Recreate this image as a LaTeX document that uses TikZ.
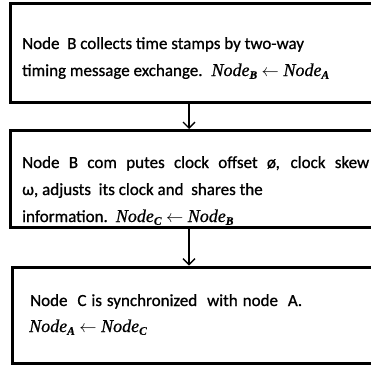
\documentclass[tikz,border=0pt]{standalone}
\usepackage{fontspec}
\setmainfont{Carlito}[FakeBold=0.9]
\newfontfamily\varfont{Liberation Serif}[FakeBold=0.6]
\usetikzlibrary{arrows.meta}
% a node name set as italic variable with a bold subscript
\newcommand{\nodevar}[1]{{\fontsize{18}{18}\varfont\itshape Node}\raisebox{-2.8pt}{\fontsize{11.5}{11.5}\varfont\bfseries\itshape #1}}
\newcommand{\getsfrom}{\hspace{4.5pt}$\leftarrow$\hspace{4.5pt}}
\begin{document}
\begin{tikzpicture}[x=1pt,y=1pt,
  stagebox/.style={draw=black, line width=3pt, inner sep=0pt, anchor=south west},
  txt/.style={anchor=base west, inner sep=0pt, font=\fontsize{17}{27}\selectfont},
  flow/.style={line width=1.4pt, -{Straight Barb[length=6pt, width=12pt, line width=1.4pt]}}
]
\useasboundingbox (0,0) rectangle (371,368);
\clip (0,0) rectangle (371,368);

% three stage boxes, right sides run past the page edge
\node[stagebox, minimum width=372pt, minimum height=99pt] (b1) at (8.5,264) {};
\node[stagebox, minimum width=372pt, minimum height=97pt] (b2) at (8.5,139) {};
\node[stagebox, minimum width=372pt, minimum height=96.5pt] (b3) at (11,3) {};

% stage 1
\node[txt] (t11) at (22,319) {Node\ \ B collects time stamps by two-way};
\node[txt] (t12) at (22,292) {timing message exchange.\hspace{9pt}\nodevar{B}\getsfrom\nodevar{A}};

% stage 2
\node[txt] (t21) at (22,200) {\makebox[347pt][s]{Node B com\ putes clock offset ø, clock skew}};
\node[txt] (t22) at (22,173) {ω, adjusts\ \ its clock and\ \ shares the};
\node[txt] (t23) at (22,146) {information.\hspace{8pt}\nodevar{C}\getsfrom\nodevar{B}};

% stage 3
\node[txt] (t31) at (30,62) {\makebox[272pt][s]{Node\ \ C is synchronized\ \ with node\ \ A.}};
\node[txt] (t32) at (29,36) {\nodevar{A}\getsfrom\nodevar{C}};

% connectors
\coordinate (a1s) at (189,264);
\coordinate (a1e) at (189,236);
\coordinate (a2s) at (189,139);
\coordinate (a2e) at (189,99.5);
\draw[flow] (b1.south -| a1s) -- (b2.north -| a1e);
\draw[flow] (b2.south -| a2s) -- (b3.north -| a2e);
\end{tikzpicture}
\end{document}
